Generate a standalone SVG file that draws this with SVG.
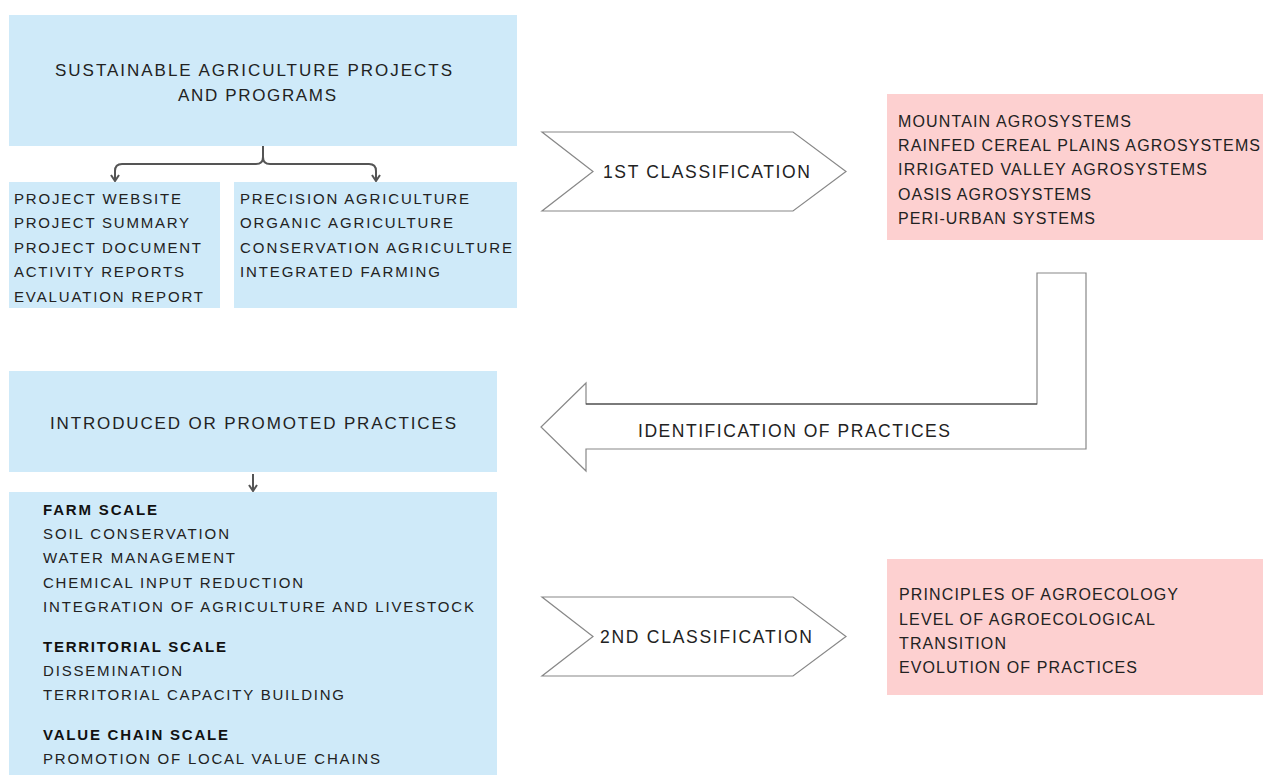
<svg xmlns="http://www.w3.org/2000/svg" width="1263" height="775" viewBox="0 0 1263 775">
<style>
.blue{fill:#cfeaf9}
.pink{fill:#fdd0d0}
.t{font-family:"Liberation Sans",Arial,sans-serif;font-size:15px;fill:#222}
.p{font-family:"Liberation Sans",Arial,sans-serif;font-size:16px;fill:#222}
.c{font-family:"Liberation Sans",Arial,sans-serif;font-size:17.5px;fill:#222}
.tb{font-family:"Liberation Sans",Arial,sans-serif;font-size:15px;font-weight:bold;fill:#111}
.h{font-family:"Liberation Sans",Arial,sans-serif;font-size:17px;fill:#222}
.sh{fill:#fff;stroke:#888;stroke-width:1.2}
.conn{fill:none;stroke:#555;stroke-width:2}
</style>
<defs>
<marker id="ah" viewBox="0 0 10 10" refX="9" refY="5" markerWidth="10" markerHeight="10" orient="auto" markerUnits="userSpaceOnUse">
<path d="M3,1 L9,5 L3,9" fill="none" stroke="#555" stroke-width="2"/>
</marker>
</defs>
<rect width="1263" height="775" fill="#fff"/>

<g id="top-box">
<rect class="blue" x="9" y="15" width="508" height="131"/>
<text class="h" x="55" y="76" textLength="397" lengthAdjust="spacing">SUSTAINABLE AGRICULTURE PROJECTS</text>
<text class="h" x="178" y="101" textLength="158" lengthAdjust="spacing">AND PROGRAMS</text>
</g>

<g id="docs-box">
<rect class="blue" x="9" y="182" width="211" height="126"/>
<text class="t" x="14" y="204" textLength="167" lengthAdjust="spacing">PROJECT WEBSITE</text>
<text class="t" x="14" y="228" textLength="175" lengthAdjust="spacing">PROJECT SUMMARY</text>
<text class="t" x="14" y="253" textLength="187" lengthAdjust="spacing">PROJECT DOCUMENT</text>
<text class="t" x="14" y="277" textLength="170" lengthAdjust="spacing">ACTIVITY REPORTS</text>
<text class="t" x="14" y="302" textLength="189" lengthAdjust="spacing">EVALUATION REPORT</text>
</g>

<g id="types-box">
<rect class="blue" x="234" y="182" width="283" height="126"/>
<text class="t" x="240" y="204" textLength="229" lengthAdjust="spacing">PRECISION AGRICULTURE</text>
<text class="t" x="240" y="228" textLength="213" lengthAdjust="spacing">ORGANIC AGRICULTURE</text>
<text class="t" x="240" y="253" textLength="272" lengthAdjust="spacing">CONSERVATION AGRICULTURE</text>
<text class="t" x="240" y="277" textLength="200" lengthAdjust="spacing">INTEGRATED FARMING</text>
</g>

<g id="classification-1">
<polygon class="sh" points="542,132 793,132 846,171.5 793,211 542,211 593,171.5"/>
<text class="c" x="603" y="178" textLength="207" lengthAdjust="spacing">1ST CLASSIFICATION</text>
</g>

<g id="agrosystems-box">
<rect class="pink" x="887" y="94" width="376" height="146"/>
<text class="p" x="898" y="126.5" textLength="233" lengthAdjust="spacing">MOUNTAIN AGROSYSTEMS</text>
<text class="p" x="898" y="151" textLength="362" lengthAdjust="spacing">RAINFED CEREAL PLAINS AGROSYSTEMS</text>
<text class="p" x="898" y="175" textLength="309" lengthAdjust="spacing">IRRIGATED VALLEY AGROSYSTEMS</text>
<text class="p" x="898" y="199.5" textLength="193" lengthAdjust="spacing">OASIS AGROSYSTEMS</text>
<text class="p" x="898" y="224" textLength="197" lengthAdjust="spacing">PERI-URBAN SYSTEMS</text>
</g>

<g id="identification-arrow">
<polygon class="sh" points="1037,273 1086,273 1086,449 586,449 586,471 541,427 586,383 586,404 1037,404"/>
<line x1="586" y1="404" x2="1037" y2="404" stroke="#333" stroke-width="1.2"/>
<text class="c" x="638" y="437" textLength="312" lengthAdjust="spacing">IDENTIFICATION OF PRACTICES</text>
</g>

<g id="practices-box">
<rect class="blue" x="9" y="371" width="488" height="101"/>
<text class="h" x="50" y="429" textLength="406" lengthAdjust="spacing">INTRODUCED OR PROMOTED PRACTICES</text>
</g>

<g id="scales-box">
<rect class="blue" x="9" y="492" width="488" height="290"/>
<text class="tb" x="43" y="515" textLength="114" lengthAdjust="spacing">FARM SCALE</text>
<text class="t" x="43" y="539" textLength="186" lengthAdjust="spacing">SOIL CONSERVATION</text>
<text class="t" x="43" y="563" textLength="192" lengthAdjust="spacing">WATER MANAGEMENT</text>
<text class="t" x="43" y="588" textLength="260" lengthAdjust="spacing">CHEMICAL INPUT REDUCTION</text>
<text class="t" x="43" y="612" textLength="431" lengthAdjust="spacing">INTEGRATION OF AGRICULTURE AND LIVESTOCK</text>
<text class="tb" x="43" y="652" textLength="183" lengthAdjust="spacing">TERRITORIAL SCALE</text>
<text class="t" x="43" y="676" textLength="139" lengthAdjust="spacing">DISSEMINATION</text>
<text class="t" x="43" y="700" textLength="301" lengthAdjust="spacing">TERRITORIAL CAPACITY BUILDING</text>
<text class="tb" x="43" y="740" textLength="185" lengthAdjust="spacing">VALUE CHAIN SCALE</text>
<text class="t" x="43" y="764" textLength="337" lengthAdjust="spacing">PROMOTION OF LOCAL VALUE CHAINS</text>
</g>

<g id="classification-2">
<polygon class="sh" points="542,597 793,597 846,636.5 793,676 542,676 593,636.5"/>
<text class="c" x="600" y="643" textLength="212" lengthAdjust="spacing">2ND CLASSIFICATION</text>
</g>

<g id="agroecology-box">
<rect class="pink" x="887" y="559" width="376" height="136"/>
<text class="p" x="899" y="600" textLength="279" lengthAdjust="spacing">PRINCIPLES OF AGROECOLOGY</text>
<text class="p" x="899" y="625" textLength="256" lengthAdjust="spacing">LEVEL OF AGROECOLOGICAL</text>
<text class="p" x="899" y="649" textLength="107" lengthAdjust="spacing">TRANSITION</text>
<text class="p" x="899" y="673" textLength="238" lengthAdjust="spacing">EVOLUTION OF PRACTICES</text>
</g>

<g id="connectors">
<path class="conn" d="M263,146 L263,157 Q263,164 256,164 L122,164 Q115,164 115,171 L115,181" marker-end="url(#ah)"/>
<path class="conn" d="M263,157 Q263,164 270,164 L369,164 Q376,164 376,171 L376,181" marker-end="url(#ah)"/>
<path class="conn" d="M253,474 L253,491" stroke-width="1.6" marker-end="url(#ah)"/>
</g>
</svg>
